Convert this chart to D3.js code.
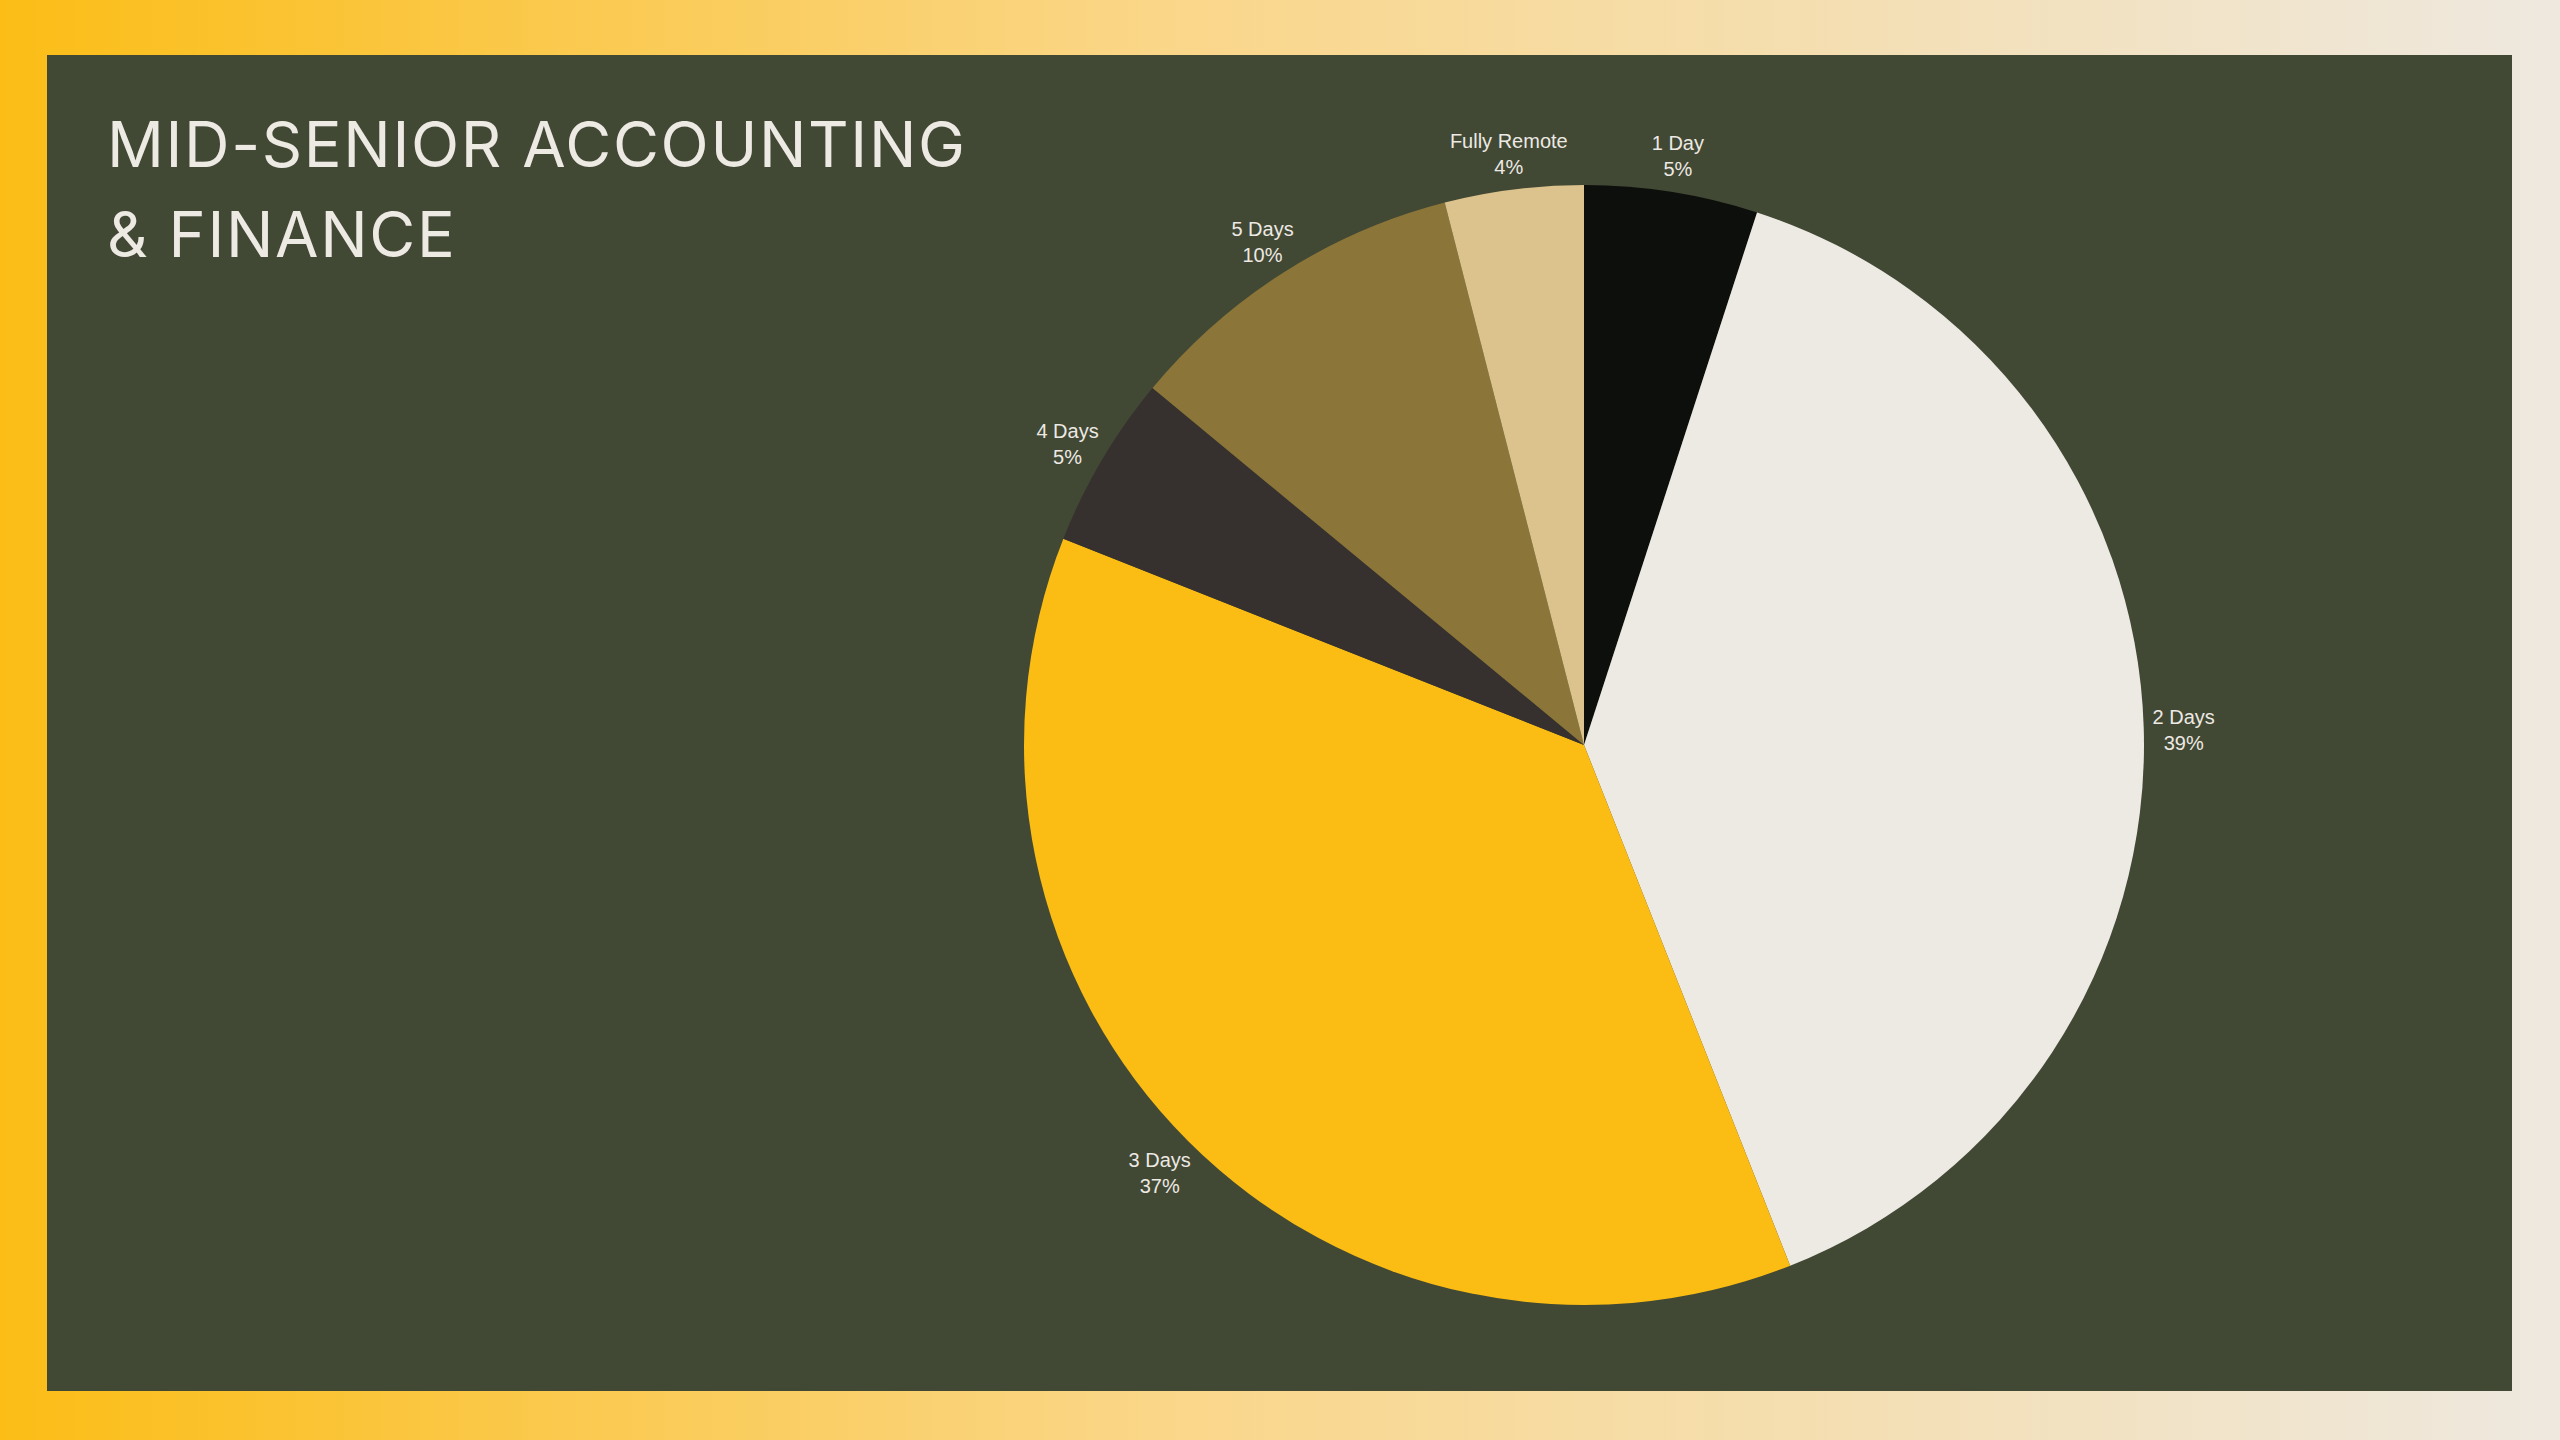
<!DOCTYPE html>
<html><head><meta charset="utf-8">
<script src="https://cdn.jsdelivr.net/npm/d3@7"></script>
<style>html,body{margin:0;padding:0;overflow:hidden;background:#fff}</style>
</head><body>
<script>
const categories = ["1 Day", "2 Days", "3 Days", "4 Days", "5 Days", "Fully Remote"];
const values = [5, 39, 37, 5, 10, 4];
const sliceColors = ["#0d0f0c", "#ede9e3", "#fbbc13", "#36302e", "#8c7538", "#dcc28c"];
const titleLines = ["MID-SENIOR ACCOUNTING", "& FINANCE"];

const W = 2560, H = 1440;
const svg = d3.select("body").append("svg").attr("width", W).attr("height", H);
const defs = svg.append("defs");
const grad = defs.append("linearGradient").attr("id", "bg").attr("x1", "0%").attr("x2", "100%").attr("y1", "0%").attr("y2", "0%");
grad.append("stop").attr("offset", "0%").attr("stop-color", "#fbbd16");
grad.append("stop").attr("offset", "45%").attr("stop-color", "#fad688");
grad.append("stop").attr("offset", "100%").attr("stop-color", "#eee8df");
svg.append("rect").attr("width", W).attr("height", H).attr("fill", "url(#bg)");
svg.append("rect").attr("x", 47).attr("y", 55).attr("width", 2465).attr("height", 1336).attr("fill", "#414834");

// title
const title = svg.append("g").attr("font-family", "Inter, Roboto, sans-serif").attr("fill", "#ede9e3").attr("font-weight", 400);
titleLines.forEach((t, i) => {
  title.append("text").attr("x", 107).attr("y", 167 + i * 90).attr("font-size", 63).text(t);
});
const t0 = title.select("text").node();
const w0 = t0.getComputedTextLength();
const ls = (858 - w0) / (titleLines[0].length - 1);
title.selectAll("text").attr("letter-spacing", ls);

// pie
const cx = 1584, cy = 745, r = 560;
const pie = d3.pie().sort(null).value(d => d.v);
const data = pie(categories.map((c, i) => ({c, v: values[i], col: sliceColors[i]})));
const arc = d3.arc().innerRadius(0).outerRadius(r);
const g = svg.append("g").attr("transform", `translate(${cx},${cy})`);
g.selectAll("path").data(data).join("path").attr("d", arc).attr("fill", d => d.data.col);

const lab = d3.arc().innerRadius(600).outerRadius(600);
const lg = g.selectAll("g.lbl").data(data).join("g").attr("class", "lbl")
  .attr("transform", d => `translate(${lab.centroid(d)})`);
lg.append("text").attr("text-anchor", "middle").attr("font-family", "'Liberation Sans', Arial, sans-serif")
  .attr("font-size", 20).attr("fill", "#ede9e3")
  .selectAll("tspan").data(d => [d.data.c, d.data.v + "%"]).join("tspan")
  .attr("x", 0).attr("y", (d, i) => -2 + i * 26).text(d => d);
</script>
</body></html>
